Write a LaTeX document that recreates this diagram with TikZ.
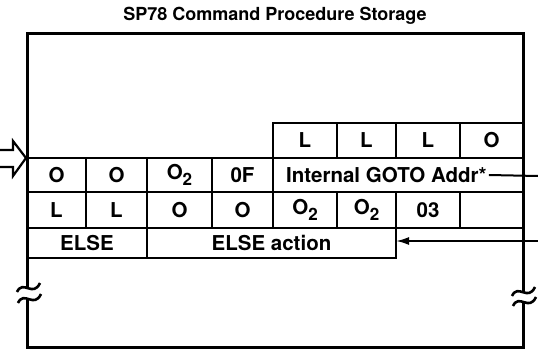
\documentclass[tikz,border=0pt]{standalone}
\usepackage{fontspec}
\setmainfont{TeX Gyre Heros}
\usetikzlibrary{arrows.meta}
\newcommand{\dn}[1]{\raisebox{-.6ex}{\fontsize{17}{18}\selectfont#1}}
\begin{document}
\begin{tikzpicture}[x=1pt,y=-1pt,
	cell/.style={draw,line width=2.6pt,inner sep=0pt,outer sep=0pt,anchor=north west,
		font=\bfseries\fontsize{20.5}{24}\selectfont},
	rowa/.style={minimum height=35pt},rowb/.style={minimum height=34pt},
	rowc/.style={minimum height=36pt},rowd/.style={minimum height=30pt},
	frame/.style={line width=3pt},
	link/.style={line width=2pt}]
\useasboundingbox (0,0) rectangle (538,350);
\node[font=\bfseries\fontsize{18}{21}\selectfont] (title) at (275,16) {SP78 Command Procedure Storage};
% frame, broken on both sides
\coordinate (tl) at (27,34);\coordinate (tr) at (523,34);
\coordinate (bl) at (27,347);\coordinate (br) at (523,347);
\draw[frame] (27,288)--(tl)--(tr)--(523,292);
\draw[frame] (27,299)--(bl)--(br)--(523,302);
\foreach \p in {(28,288),(29,299),(523,292),(524,302)}
	\draw[line width=2.6pt,shift={\p}] (-11,4) .. controls (-5,-9) and (5,10) .. (12,-5);
% entry arrow
\draw[line width=2.2pt] (0,150)--(13,150)--(13,141)--(26,158)--(13,176)--(13,167)--(0,167);
% row a
\node[cell,rowa,minimum width=64pt] (la1) at (273,123) {L};
\node[cell,rowa,minimum width=59pt] (la2) at (337,123) {L};
\node[cell,rowa,minimum width=64pt] (la3) at (396,123) {L};
\node[cell,rowa,minimum width=63pt] (oa4) at (460,123) {O};
% row b
\node[cell,rowb,minimum width=59pt] (ob1) at (27,158) {O};
\node[cell,rowb,minimum width=61pt] (ob2) at (86,158) {O};
\node[cell,rowb,minimum width=65pt] (ob3) at (147,158) {O\dn{2}};
\node[cell,rowb,minimum width=61pt] (ofb) at (212,158) {0F};
\node[cell,rowb,minimum width=250pt] (gotocell) at (273,158) {};
\node[font=\bfseries\fontsize{20.5}{24}\selectfont,anchor=west,inner sep=0pt,inner xsep=2pt] (gototxt) at (284,175) {Internal GOTO Addr*};
% row c
\node[cell,rowc,minimum width=59pt] (lc1) at (27,192) {L};
\node[cell,rowc,minimum width=61pt] (lc2) at (86,192) {L};
\node[cell,rowc,minimum width=65pt] (oc3) at (147,192) {O};
\node[cell,rowc,minimum width=61pt] (oc4) at (212,192) {O};
\node[cell,rowc,minimum width=64pt] (oc5) at (273,192) {O\dn{2}};
\node[cell,rowc,minimum width=59pt] (oc6) at (337,192) {O\dn{2}};
\node[cell,rowc,minimum width=64pt] (nc7) at (396,192) {03};
\node[cell,rowc,minimum width=63pt] (ec8) at (460,192) {};
% row d
\node[cell,rowd,minimum width=120pt] (else) at (27,228) {ELSE};
\node[cell,rowd,minimum width=249pt] (elseact) at (147,228) {ELSE action};
% outside links
\coordinate (gotoout) at (538,176);
\coordinate (elsein) at (538,241);
\draw[link] (gototxt.east)--(gotoout);
\draw[link,-{Latex[length=13pt,width=8pt]}] (elsein)--(elseact.east |- elsein);
\end{tikzpicture}
\end{document}
